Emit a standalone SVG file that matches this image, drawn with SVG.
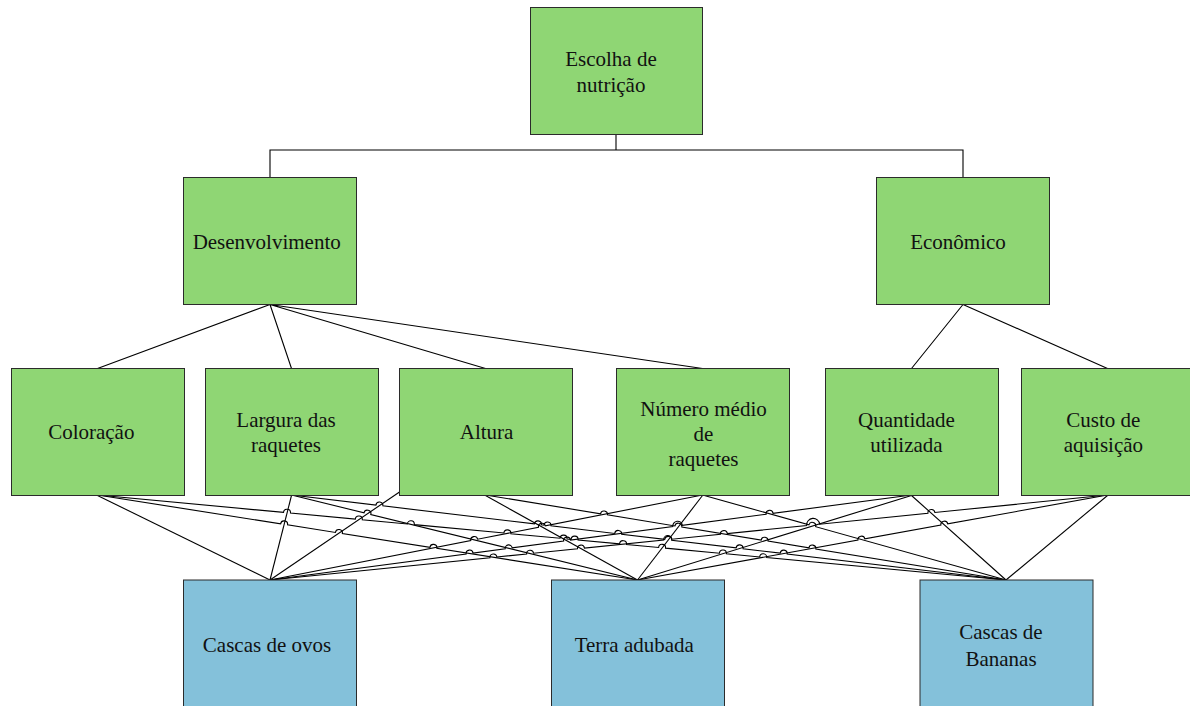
<svg xmlns="http://www.w3.org/2000/svg" width="1190" height="706" viewBox="0 0 1190 706">
<style>
.g{fill:#8fd674;stroke:#2b2b2b;stroke-width:1}
.b{fill:#84c1da;stroke:#2b2b2b;stroke-width:1}
.t{font-family:"Liberation Serif","Times New Roman",serif;font-size:21px;fill:#111;text-anchor:middle}
.c{fill:none;stroke:#000;stroke-width:1.1}
</style>
<rect width="1190" height="706" fill="#fff"/>
<g id="connectors" class="c">
<path d="M616,134.5 V150 H270 V177.5 M616,150 H963 V177.5"/>
<path d="M270,304.5 L97.5,368.5 M270,304.5 L291.5,368.5 M270,304.5 L485.5,368.5 M270,304.5 L702.5,368.5"/>
<path d="M963,304.5 L911.5,368.5 M963,304.5 L1107.5,368.5"/>
<path d="M97.5,495.5 L270,580"/>
<path d="M291.5,495.5 L270,580"/>
<path d="M399.5,492 L270,580"/>
<path d="M485.5,495.5 L637.5,580"/>
<path d="M702.5,495.5 L637.5,580"/>
<path d="M911.5,495.5 L637.5,580"/>
<path d="M911.5,495.5 L1006,580"/>
<path d="M1107.5,495.5 L1006,580"/>
<path d="M97.5,495 L280.64,523.83 A3.5,3.5 0 0 1 287.56,524.91 L335.44,532.46 A3.5,3.5 0 0 1 342.36,533.54 L429.94,547.33 A3.5,3.5 0 0 1 436.86,548.41 L637.5,580"/>
<path d="M97.5,495 L283.52,512.40 A3.5,3.5 0 0 1 290.49,513.06 L355.32,519.12 A3.5,3.5 0 0 1 362.29,519.78 L407.32,523.98 A3.5,3.5 0 0 1 414.29,524.64 L503.92,533.02 A3.5,3.5 0 0 1 510.89,533.68 L560.02,538.27 A3.5,3.5 0 0 1 566.99,538.93 L571.12,539.31 A3.5,3.5 0 0 1 578.09,539.97 L619.62,543.84 A3.5,3.5 0 0 1 626.59,544.50 L658.62,547.49 A3.5,3.5 0 0 1 665.59,548.15 L719.42,553.18 A3.5,3.5 0 0 1 726.39,553.84 L759.72,556.95 A3.5,3.5 0 0 1 766.69,557.61 L1006,580"/>
<path d="M291.5,495 L364.00,512.82 A3.5,3.5 0 0 1 370.80,514.49 L637.5,580"/>
<path d="M291.5,495 L375.92,505.05 A3.5,3.5 0 0 1 382.87,505.87 L534.42,523.90 A3.5,3.5 0 0 1 541.37,524.72 L544.02,525.04 A3.5,3.5 0 0 1 550.97,525.86 L614.72,533.45 A3.5,3.5 0 0 1 621.67,534.27 L664.72,539.40 A3.5,3.5 0 0 1 671.67,540.22 L736.12,547.90 A3.5,3.5 0 0 1 743.07,548.72 L780.22,553.14 A3.5,3.5 0 0 1 787.17,553.96 L1006,580"/>
<path d="M485.5,495 L600.55,513.79 A3.5,3.5 0 0 1 607.45,514.91 L674.95,525.94 A3.5,3.5 0 0 1 681.85,527.06 L761.15,540.02 A3.5,3.5 0 0 1 768.05,541.14 L808.95,547.82 A3.5,3.5 0 0 1 815.85,548.94 L1006,580"/>
<path d="M270,580 L470.77,540.54 A3.5,3.5 0 0 1 477.63,539.20 L538.47,527.23 A3.5,3.5 0 0 1 545.33,525.88 L702.5,495"/>
<path d="M702.5,495 L808.93,524.81 A3.5,3.5 0 0 1 815.67,526.69 L1006,580"/>
<path d="M270,580 L466.13,554.01 A3.5,3.5 0 0 1 473.07,553.09 L505.23,548.83 A3.5,3.5 0 0 1 512.17,547.91 L563.63,541.09 A3.5,3.5 0 0 1 570.57,540.17 L672.83,526.63 A4.81,4.81 0 0 1 682.37,525.36 L766.13,514.26 A3.5,3.5 0 0 1 773.07,513.34 L911.5,495"/>
<path d="M270,580 L489.92,557.68 A3.5,3.5 0 0 1 496.88,556.98 L526.62,553.95 A3.5,3.5 0 0 1 533.58,553.25 L577.52,548.79 A3.5,3.5 0 0 1 584.48,548.09 L663.72,540.04 A4.1,4.1 0 0 1 671.88,539.21 L720.42,534.28 A3.5,3.5 0 0 1 727.38,533.58 L806.72,525.53 A6.51,6.51 0 0 1 819.68,524.21 L927.92,513.22 A3.5,3.5 0 0 1 934.88,512.52 L1107.5,495"/>
<path d="M637.5,580 L857.96,540.13 A3.5,3.5 0 0 1 864.84,538.89 L940.86,525.13 A3.5,3.5 0 0 1 947.74,523.89 L1107.5,495"/>
</g>
<g id="n-escolha"><rect class="g" x="530.5" y="7.5" width="172" height="127"/><text class="t" x="611" y="66">Escolha de</text><text class="t" x="611" y="91.5">nutrição</text></g>
<g id="n-desenvolvimento"><rect class="g" x="183.5" y="177.5" width="173" height="127"/><text class="t" x="266.7" y="249">Desenvolvimento</text></g>
<g id="n-economico"><rect class="g" x="876.5" y="177.5" width="173" height="127"/><text class="t" x="958" y="249">Econômico</text></g>
<g id="n-coloracao"><rect class="g" x="11.5" y="368.5" width="173" height="127"/><text class="t" x="91.3" y="439.3">Coloração</text></g>
<g id="n-largura"><rect class="g" x="205.5" y="368.5" width="173" height="127"/><text class="t" x="286" y="427">Largura das</text><text class="t" x="286" y="452">raquetes</text></g>
<g id="n-altura"><rect class="g" x="399.5" y="368.5" width="173" height="127"/><text class="t" x="486.6" y="439.3">Altura</text></g>
<g id="n-numero"><rect class="g" x="616.5" y="368.5" width="173" height="127"/><text class="t" x="703.5" y="415.5">Número médio</text><text class="t" x="703.5" y="440.5">de</text><text class="t" x="703.5" y="465.5">raquetes</text></g>
<g id="n-quantidade"><rect class="g" x="825.5" y="368.5" width="173" height="127"/><text class="t" x="906.5" y="427">Quantidade</text><text class="t" x="906.5" y="452">utilizada</text></g>
<g id="n-custo"><rect class="g" x="1021.5" y="368.5" width="173" height="127"/><text class="t" x="1103.4" y="427">Custo de</text><text class="t" x="1103.4" y="452">aquisição</text></g>
<g id="n-ovos"><rect class="b" x="183.5" y="580" width="173" height="128"/><text class="t" x="267" y="652">Cascas de ovos</text></g>
<g id="n-terra"><rect class="b" x="551.5" y="580" width="173" height="128"/><text class="t" x="634.3" y="652">Terra adubada</text></g>
<g id="n-bananas"><rect class="b" x="920" y="580" width="173" height="128"/><text class="t" x="1001" y="638.5">Cascas de</text><text class="t" x="1001" y="665.5">Bananas</text></g>
</svg>
